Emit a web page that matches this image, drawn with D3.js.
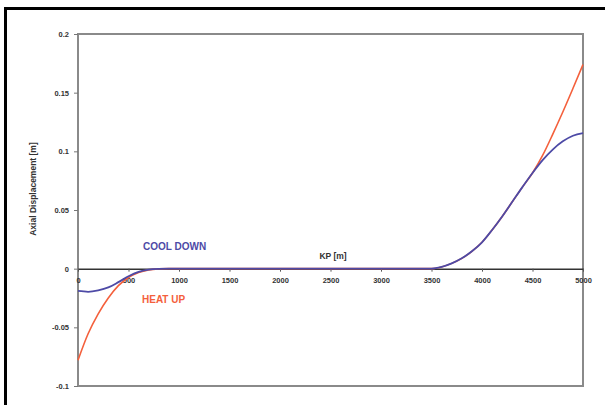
<!DOCTYPE html>
<html>
<head>
<meta charset="utf-8">
<script src="https://cdn.jsdelivr.net/npm/d3@7"></script>
<style>
  body { margin: 0; background: #fff; }
  text { font-family: "Liberation Sans", Arial, sans-serif; }
</style>
</head>
<body>
<svg width="605" height="405"></svg>
<script>
// KP positions (m) and displacement readings (m)
const kpCool = [0, 100, 200, 300, 400, 500, 600, 700, 800, 900, 1000, 1500, 2000, 2500, 3000, 3500,
  3600, 3700, 3800, 3900, 4000, 4100, 4200, 4300, 4400, 4500, 4600, 4700, 4800, 4900, 5000];
const coolDown = [-0.019, -0.0197, -0.0185, -0.016, -0.0115, -0.0065, -0.0028, -0.0009, -0.0002, 0, 0, 0, 0, 0, 0, 0,
  0.0015, 0.0045, 0.0088, 0.0148, 0.0225, 0.033, 0.0445, 0.057, 0.0695, 0.0815, 0.0925, 0.1015, 0.1085, 0.1133, 0.1155];

const kpHeat = [0, 100, 200, 300, 400, 500, 600, 700, 800, 900, 1000, 1500, 2000, 2500, 3000, 3500,
  3600, 3700, 3800, 3900, 4000, 4100, 4200, 4300, 4400, 4500, 4600, 4700, 4800, 4900, 5000];
const heatUp = [-0.078, -0.0555, -0.0385, -0.025, -0.0145, -0.0075, -0.0032, -0.001, -0.0002, 0, 0, 0, 0, 0, 0, 0,
  0.0015, 0.0045, 0.0088, 0.0148, 0.0225, 0.033, 0.0445, 0.057, 0.0695, 0.0815, 0.0965, 0.1145, 0.1335, 0.1535, 0.174];

const xTicks = [0, 500, 1000, 1500, 2000, 2500, 3000, 3500, 4000, 4500, 5000];
const yTicks = [-0.1, -0.05, 0, 0.05, 0.1, 0.15, 0.2];

const margin = { left: 78, top: 34, right: 22, bottom: 19 };

const svg = d3.select('svg');
const width = +svg.attr('width');
const height = +svg.attr('height');
const innerWidth = width - margin.left - margin.right;
const innerHeight = height - margin.top - margin.bottom;

// outer frame (only left and top edges show)
svg.append('path')
  .attr('d', `M5.5,${height + 5} V8.5 H${width + 5}`)
  .attr('fill', 'none')
  .attr('stroke', '#000')
  .attr('stroke-width', 3);

const xScale = d3.scaleLinear().domain([0, 5000]).range([0, innerWidth]);
const yScale = d3.scaleLinear().domain([-0.1, 0.2]).range([innerHeight, 0]);

const g = svg.append('g')
  .attr('transform', `translate(${margin.left},${margin.top})`);

// plot area border
g.append('rect')
  .attr('width', innerWidth)
  .attr('height', innerHeight)
  .attr('fill', 'none')
  .attr('stroke', '#8a8a8a')
  .attr('stroke-width', 2);

const yAxis = d3.axisLeft(yScale)
  .tickValues(yTicks)
  .tickSize(4)
  .tickPadding(5)
  .tickFormat(d => String(+d.toFixed(2)));

const yAxisG = g.append('g').call(yAxis);
yAxisG.select('.domain').remove();
yAxisG.selectAll('.tick line').attr('stroke', '#777');
yAxisG.selectAll('.tick text')
  .attr('fill', '#333')
  .style('font-size', '7.5px')
  .style('font-weight', 'bold');

const xAxis = d3.axisBottom(xScale)
  .tickValues(xTicks)
  .tickSize(3)
  .tickPadding(6)
  .tickSizeOuter(0)
  .tickFormat(d3.format('d'));

const xAxisG = g.append('g')
  .attr('transform', `translate(0,${yScale(0)})`)
  .call(xAxis);
xAxisG.select('.domain').attr('stroke', '#333').attr('stroke-width', 1.5);
xAxisG.selectAll('.tick line').attr('stroke', '#555');
xAxisG.selectAll('.tick text')
  .attr('fill', '#333')
  .style('font-size', '7.5px')
  .style('font-weight', 'bold');

const line = d3.line()
  .x(d => xScale(d[0]))
  .y(d => yScale(d[1]))
  .curve(d3.curveMonotoneX);

g.append('path')
  .datum(d3.zip(kpHeat, heatUp))
  .attr('fill', 'none')
  .attr('stroke', '#f4603c')
  .attr('stroke-width', 1.6)
  .attr('d', line);

g.append('path')
  .datum(d3.zip(kpCool, coolDown))
  .attr('fill', 'none')
  .attr('stroke', '#4d4aa6')
  .attr('stroke-width', 1.8)
  .attr('d', line);

// labels
g.append('text')
  .attr('transform', `translate(${-42},${155}) rotate(-90)`)
  .attr('text-anchor', 'middle')
  .attr('fill', '#333')
  .style('font-size', '8.5px')
  .style('font-weight', 'bold')
  .text('Axial Displacement [m]');

g.append('text')
  .attr('x', 255)
  .attr('y', 225)
  .attr('text-anchor', 'middle')
  .attr('fill', '#333')
  .style('font-size', '8.5px')
  .style('font-weight', 'bold')
  .text('KP [m]');

g.append('text')
  .attr('x', 65)
  .attr('y', 216)
  .attr('fill', '#4d4aa6')
  .style('font-size', '10px')
  .style('font-weight', 'bold')
  .text('COOL DOWN');

g.append('text')
  .attr('x', 64)
  .attr('y', 269)
  .attr('fill', '#f4603c')
  .style('font-size', '10px')
  .style('font-weight', 'bold')
  .text('HEAT UP');
</script>
</body>
</html>
